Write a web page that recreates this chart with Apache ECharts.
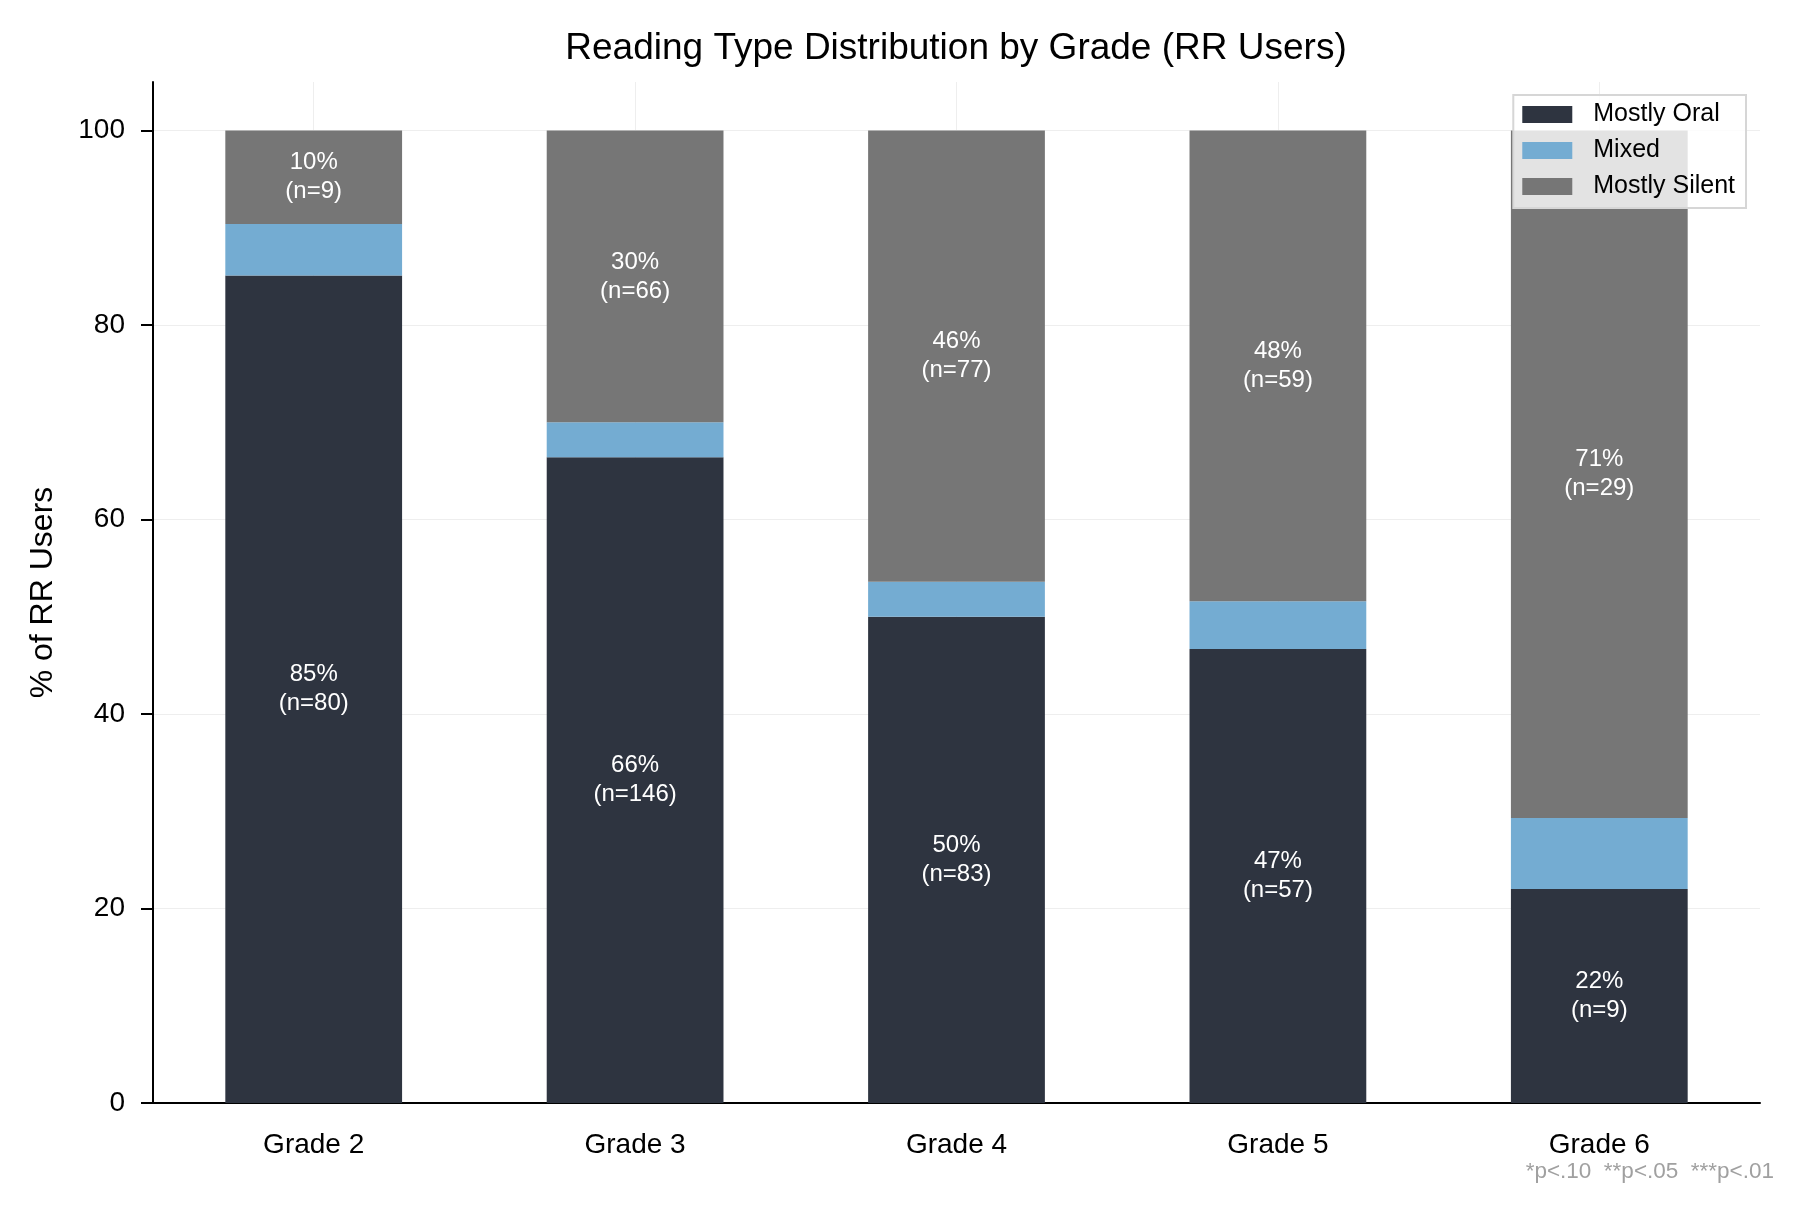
<!DOCTYPE html>
<html>
<head>
<meta charset="utf-8">
<script src="https://cdn.jsdelivr.net/npm/echarts@6/dist/echarts.min.js"></script>
<style>
html,body{margin:0;padding:0;background:#fff;}
#chart{width:1806px;height:1212px;}
</style>
</head>
<body>
<div id="chart"></div>
<script>
// ---- Data ----
const categories = ['Grade 2', 'Grade 3', 'Grade 4', 'Grade 5', 'Grade 6'];
const mostlyOralPct = [85.1, 66.4, 50.0, 46.7, 22.0];
const mixedPct = [5.3, 3.6, 3.6, 4.9, 7.3];
const mostlySilentPct = [9.6, 30.0, 46.4, 48.4, 70.7];
const mostlyOralN = [80, 146, 83, 57, 9];
const mostlySilentN = [9, 66, 77, 59, 29];
const yTicks = [0, 20, 40, 60, 80, 100];
const footnote = '*p<.10  **p<.05  ***p<.01';

const FONT = '"Liberation Sans", Arial, Helvetica, sans-serif';
const chart = echarts.init(document.getElementById('chart'), null, {renderer: 'canvas'});

function labelFor(nArr) {
  return {
    show: true,
    position: 'inside',
    color: '#ffffff',
    fontFamily: FONT,
    fontSize: 24,
    lineHeight: 29,
    formatter: p => Math.round(p.value) + '%\n(n=' + nArr[p.dataIndex] + ')'
  };
}

const option = {
  animation: false,
  backgroundColor: '#ffffff',
  title: {
    text: 'Reading Type Distribution by Grade (RR Users)',
    left: 956,
    top: 30,
    padding: 0,
    textAlign: 'center',
    textStyle: {fontFamily: FONT, fontSize: 37, fontWeight: 'normal', color: '#000'}
  },
  legend: {
    orient: 'vertical',
    right: 60,
    top: 95,
    padding: [7, 11, 9, 9],
    itemWidth: 50,
    itemHeight: 17,
    itemGap: 11,
    icon: 'rect',
    backgroundColor: 'rgba(255,255,255,0.8)',
    borderColor: '#d6d6d6',
    borderWidth: 2,
    borderRadius: 0,
    textStyle: {fontFamily: FONT, fontSize: 25, color: '#000', padding: [0, 0, 0, 16]},
    data: ['Mostly Oral', 'Mixed', 'Mostly Silent']
  },
  grid: {left: 153, right: 46, top: 82, bottom: 109, containLabel: false},
  xAxis: {
    type: 'category',
    data: categories,
    boundaryGap: true,
    axisLine: {lineStyle: {color: '#000', width: 2}},
    axisTick: {alignWithLabel: true, length: 12, lineStyle: {color: '#000', width: 2}},
    axisLabel: {fontFamily: FONT, fontSize: 28, color: '#000', margin: 28},
    splitLine: {show: true, alignWithLabel: true, lineStyle: {color: '#eeeeee', width: 1}}
  },
  yAxis: {
    type: 'value',
    min: 0,
    max: 105,
    interval: 20,
    name: '% of RR Users',
    nameLocation: 'middle',
    nameGap: 94,
    nameTextStyle: {fontFamily: FONT, fontSize: 32, color: '#000'},
    axisLine: {show: true, lineStyle: {color: '#000', width: 2}},
    axisTick: {show: true, length: 12, customValues: yTicks, lineStyle: {color: '#000', width: 2}},
    axisLabel: {fontFamily: FONT, fontSize: 28, color: '#000', margin: 28, customValues: yTicks},
    splitLine: {show: true, lineStyle: {color: ['#eeeeee','#eeeeee','#eeeeee','#eeeeee','#eeeeee','#eeeeee','rgba(0,0,0,0)'], width: 1}}
  },
  series: [
    {
      name: 'Mostly Oral', type: 'bar', stack: 'total', barWidth: '55%',
      itemStyle: {color: '#2e3440'},
      label: labelFor(mostlyOralN),
      data: mostlyOralPct
    },
    {
      name: 'Mixed', type: 'bar', stack: 'total', barWidth: '55%',
      itemStyle: {color: '#74acd2'},
      label: {show: false},
      data: mixedPct
    },
    {
      name: 'Mostly Silent', type: 'bar', stack: 'total', barWidth: '55%',
      itemStyle: {color: '#767676'},
      label: labelFor(mostlySilentN),
      data: mostlySilentPct
    }
  ],
  graphic: [
    {
      type: 'text',
      right: 32,
      top: 1160,
      style: {text: footnote, fontFamily: FONT, fontSize: 22.5, fill: '#a0a0a0'}
    }
  ]
};
chart.setOption(option);
</script>
</body>
</html>
